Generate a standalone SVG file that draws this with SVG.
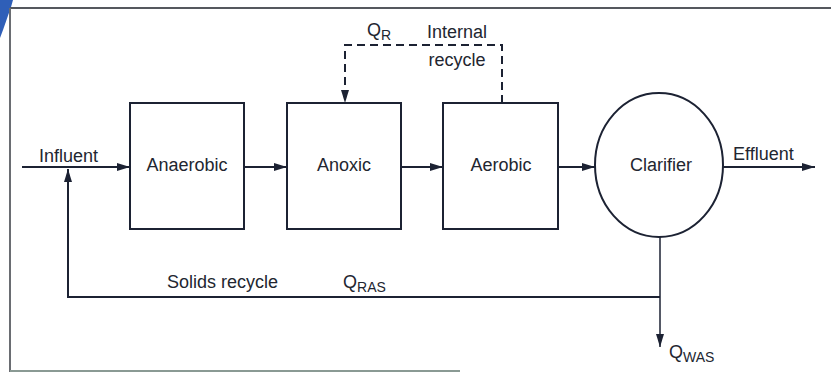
<svg xmlns="http://www.w3.org/2000/svg" width="831" height="376" viewBox="0 0 831 376">
  <defs>
    <marker id="arr" viewBox="0 0 13 8" refX="13" refY="4" markerWidth="13" markerHeight="8" markerUnits="userSpaceOnUse" orient="auto">
      <path d="M0,0 L13,4 L0,8 Z" fill="#1c2233"/>
    </marker>
  </defs>
  <style>
    .box { fill: #ffffff; stroke: #1c2233; stroke-width: 2; }
    .line { fill: none; stroke: #1c2233; stroke-width: 2; }
    .thin { fill: none; stroke: #1c2233; stroke-width: 1.5; }
    .dash { fill: none; stroke: #1c2233; stroke-width: 2; stroke-dasharray: 8 5; }
    text { font-family: "Liberation Sans", Arial, sans-serif; font-size: 18px; fill: #222630; }
    .mid { text-anchor: middle; }
    .sub { font-size: 14px; }
  </style>
  <rect x="0" y="0" width="831" height="376" fill="#ffffff"/>
  <!-- frame / scan edges -->
  <polygon points="0,0 13,0 11,7 3,30 0,38" fill="#2f5fb8"/>
  <path d="M10,8 L831,8" stroke="#55585e" stroke-width="2" fill="none"/>
  <path d="M10,8 L10,372" stroke="#6a6d72" stroke-width="2" fill="none"/>
  <path d="M10,371 L460,371" stroke="#8a9a94" stroke-width="2" fill="none"/>

  <g id="connectors">
    <path class="line" d="M22,167 L130,167" marker-end="url(#arr)"/>
    <path class="line" d="M244,167 L287,167" marker-end="url(#arr)"/>
    <path class="line" d="M401,167 L443,167" marker-end="url(#arr)"/>
    <path class="line" d="M558,167 L595,167" marker-end="url(#arr)"/>
    <path class="line" d="M723,167 L815,167" marker-end="url(#arr)"/>
    <path class="dash" d="M502,103 L502,45 L345,45 L345,103" marker-end="url(#arr)"/>
    <path class="thin" d="M660,237 L660,347" marker-end="url(#arr)"/>
    <path class="line" d="M660,297 L68,297 L68,169" marker-end="url(#arr)"/>
  </g>

  <g id="anaerobic">
    <rect class="box" x="130" y="103" width="114" height="126"/>
    <text class="mid" x="187" y="171">Anaerobic</text>
  </g>
  <g id="anoxic">
    <rect class="box" x="287" y="103" width="114" height="126"/>
    <text class="mid" x="344" y="171">Anoxic</text>
  </g>
  <g id="aerobic">
    <rect class="box" x="443" y="103" width="115" height="126"/>
    <text class="mid" x="501" y="171">Aerobic</text>
  </g>
  <g id="clarifier">
    <ellipse class="box" cx="659" cy="165" rx="64" ry="72"/>
    <text class="mid" x="661" y="171">Clarifier</text>
  </g>

  <g id="labels">
    <text x="39" y="162">Influent</text>
    <text x="733" y="160">Effluent</text>
    <text x="367" y="36">Q<tspan class="sub" dy="4">R</tspan></text>
    <text class="mid" x="457" y="38">Internal</text>
    <text class="mid" x="457" y="66">recycle</text>
    <text x="167" y="288">Solids recycle</text>
    <text x="343" y="288">Q<tspan class="sub" dy="4">RAS</tspan></text>
    <text x="669" y="358">Q<tspan class="sub" dy="4">WAS</tspan></text>
  </g>
</svg>
